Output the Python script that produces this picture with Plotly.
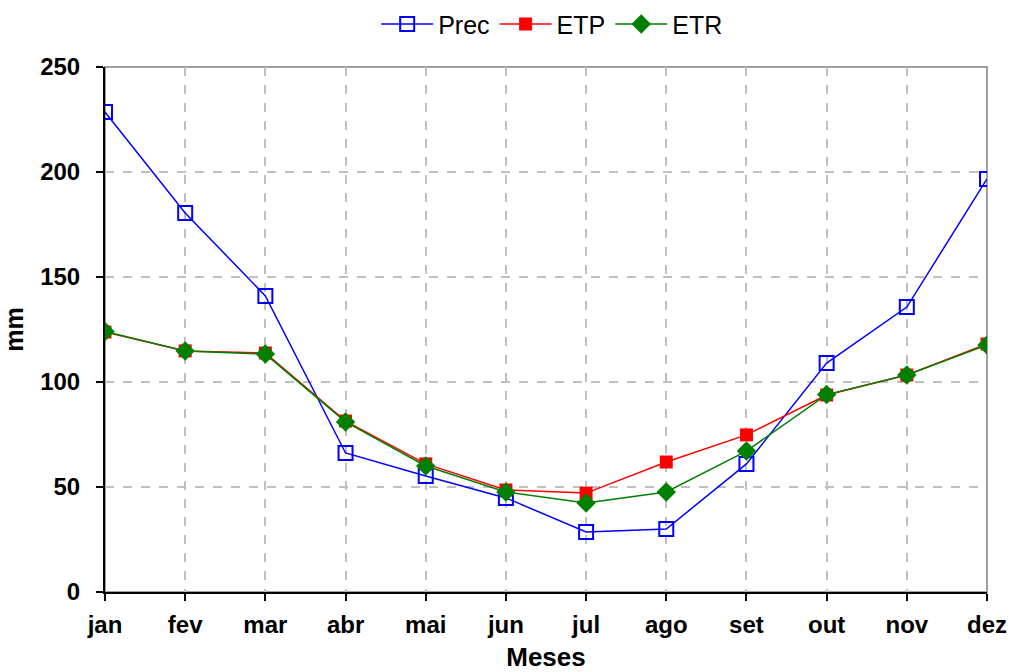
import plotly.graph_objects as go

meses = ["jan", "fev", "mar", "abr", "mai", "jun", "jul", "ago", "set", "out", "nov", "dez"]
prec = [228.6, 180.5, 141.0, 66.2, 55.2, 44.8, 28.6, 30.0, 61.0, 109.0, 135.7, 196.7]
etp = [123.8, 114.8, 113.8, 81.4, 61.0, 48.6, 47.1, 61.9, 74.8, 93.8, 103.3, 118.1]
etr = [124.0, 114.8, 113.3, 81.0, 60.0, 47.6, 42.4, 47.6, 67.1, 94.0, 103.3, 117.6]

fig = go.Figure()
fig.add_trace(go.Scatter(
    x=meses, y=prec, name="Prec", mode="lines+markers",
    line=dict(color="#0000ff", width=1.5),
    marker=dict(symbol="square-open", size=14, color="#0000ff", line=dict(width=2)),
))
fig.add_trace(go.Scatter(
    x=meses, y=etp, name="ETP", mode="lines+markers",
    line=dict(color="#ff0000", width=1.5),
    marker=dict(symbol="square", size=13, color="#ff0000"),
))
fig.add_trace(go.Scatter(
    x=meses, y=etr, name="ETR", mode="lines+markers",
    line=dict(color="#008000", width=1.5),
    marker=dict(symbol="diamond", size=15, color="#008000"),
))

# gray plot border (top/right); left and bottom are the black axis lines
fig.add_shape(type="rect", xref="paper", yref="paper", x0=0, y0=0, x1=1, y1=1,
              line=dict(color="#a0a0a0", width=2), layer="below")

fig.update_layout(
    width=1012, height=672,
    margin=dict(l=105, r=25, t=67, b=80, autoexpand=False),
    paper_bgcolor="white", plot_bgcolor="white",
    font=dict(family="Liberation Sans, Arial, sans-serif", color="black"),
    showlegend=True,
    legend=dict(orientation="h", x=0.507, xanchor="center", yref="container",
                y=0.964, yanchor="middle", itemwidth=52,
                font=dict(size=25), bgcolor="rgba(0,0,0,0)"),
)
fig.update_xaxes(
    type="category", range=[0, 11], automargin=False,
    title=dict(text="<b>Meses</b>", font=dict(size=26), standoff=20),
    tickfont=dict(size=24, weight="bold"), ticklabelstandoff=3,
    showline=True, linecolor="black", linewidth=2,
    ticks="outside", ticklen=7, tickwidth=2, tickcolor="black",
    showgrid=True, gridcolor="#c0c0c0", griddash="dash", gridwidth=1.5,
    zeroline=False,
)
fig.update_yaxes(
    range=[0, 250], dtick=50, automargin=False,
    title=dict(text="<b>mm</b>", font=dict(size=25), standoff=16),
    tickfont=dict(size=24, weight="bold"), ticklabelstandoff=11,
    showline=True, linecolor="black", linewidth=2,
    ticks="outside", ticklen=7, tickwidth=2, tickcolor="black",
    showgrid=True, gridcolor="#c0c0c0", griddash="dash", gridwidth=1.5,
    zeroline=False,
)

# drop the default 8px page margin so the figure fills the window exactly
fig.write_html(
    "out.html",
    config={"displayModeBar": False},
    post_script="document.body.style.margin='0';document.body.style.overflow='hidden';",
)
